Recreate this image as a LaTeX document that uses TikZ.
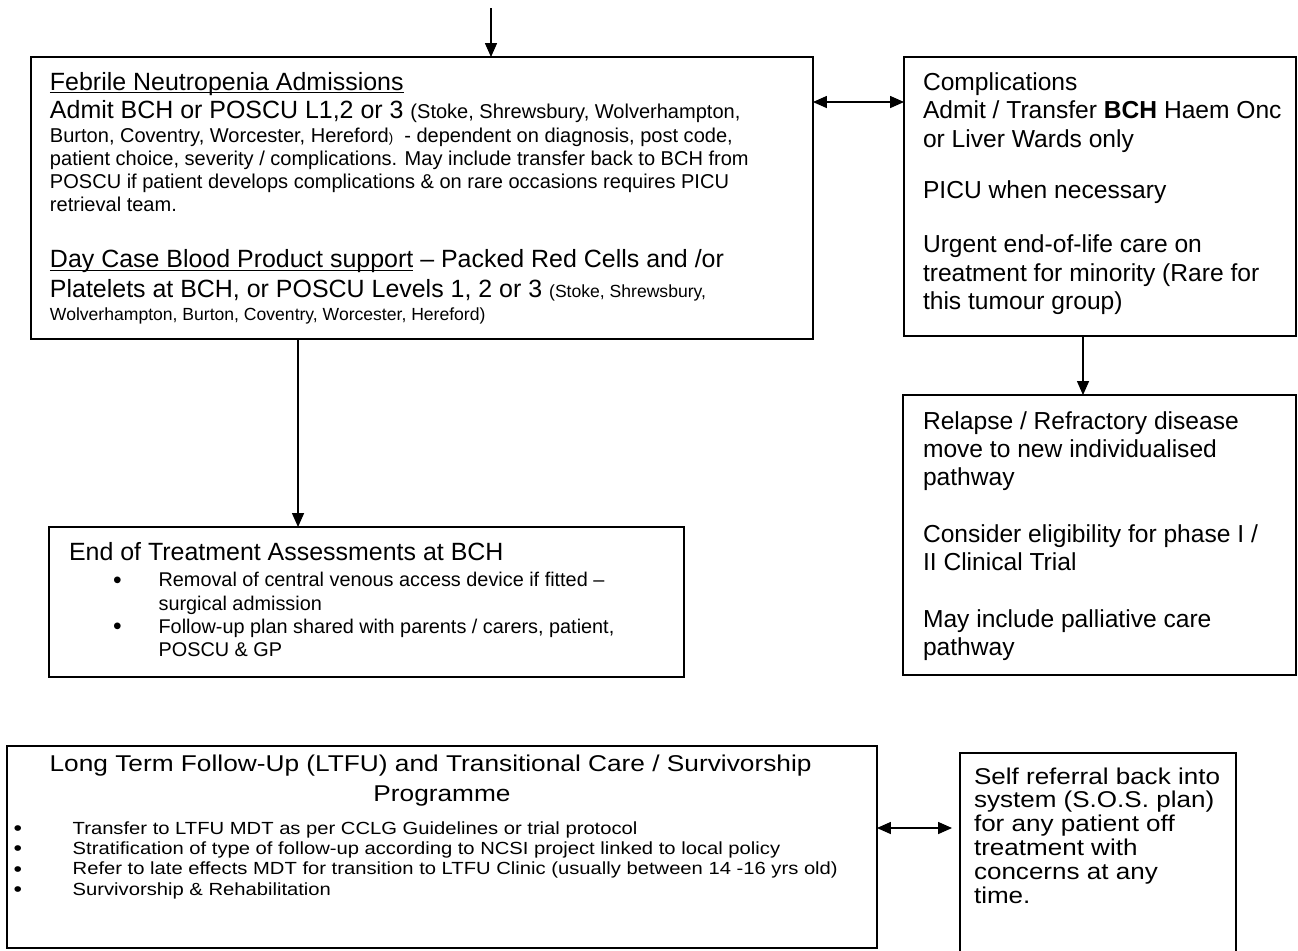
\documentclass[tikz,border=0pt]{standalone}
\usepackage{fontspec}
\setmainfont{Liberation Sans}
\newfontfamily\ltfufont[FakeStretch=1.15]{Liberation Sans}
\newfontfamily\sosfont[FakeStretch=1.14]{Liberation Sans}
\usetikzlibrary{arrows.meta}

\newcommand{\bigtxt}{\fontsize{14.2}{13.2}\selectfont}
\newcommand{\smalltxt}{\fontsize{11.4}{13.2}\selectfont}
\newcommand{\smallertxt}{\fontsize{10}{13.2}\selectfont}
\newcommand{\tinytxt}{\fontsize{7.5}{13.2}\selectfont}
\newcommand{\fixlines}{\lineskiplimit=-100pt\lineskip=0pt}
\newsavebox{\ulbox}
\newcommand{\uln}[1]{\leavevmode\sbox{\ulbox}{#1}\rlap{\rule[-1.6pt]{\wd\ulbox}{0.6pt}}\usebox{\ulbox}}
\newcommand{\dotitem}[2]{\leavevmode\llap{\raisebox{-0.8pt}{\fontsize{#1}{8}\selectfont\textbullet}\hspace{#2}}}

\begin{document}
\begin{tikzpicture}[x=0.02cm, y=-0.02cm, >={Triangle[length=7.9pt, width=6.8pt]},
    box/.style={draw, line width=0.9pt, inner sep=0pt, outer sep=0pt},
    txt/.style={inner sep=0pt, outer sep=0pt, anchor=base west, align=flush left},
    link/.style={line width=0.7pt}]
    \fill[white] (0,0) rectangle (1298,950);
    \useasboundingbox (0,0) rectangle (1298,950);

    \node[box, minimum width=15.64cm, minimum height=5.64cm] (fn) at (422,198) {};
    \node[box, minimum width=7.84cm, minimum height=5.58cm] (comp) at (1100,196.5) {};
    \node[box, minimum width=7.86cm, minimum height=5.6cm] (rel) at (1099.5,535) {};
    \node[box, minimum width=12.7cm, minimum height=3cm] (eot) at (366.5,602) {};
    \node[box, minimum width=17.4cm, minimum height=4.04cm] (ltfu) at (442,847) {};
    \node[box, minimum width=5.52cm, minimum height=4.94cm] (sos) at (1098,876.5) {};

    \node[txt, text width=15.6cm, font=\bigtxt\fixlines] (fnTxt) at (50,90) {%
    \uln{Febrile Neutropenia Admissions}\\[3.2pt]
    Admit BCH or POSCU L1,2 or 3 \smalltxt(Stoke, Shrewsbury, Wolverhampton,\\
    \smalltxt Burton, Coventry, Worcester, Hereford{\tinytxt)}\ \ - dependent on diagnosis, post code,\\
    \smalltxt patient choice, severity / complications. May include transfer back to BCH from\\
    \smalltxt POSCU if patient develops complications \& on rare occasions requires PICU\\
    \smalltxt retrieval team.\\[18.9pt]
    \bigtxt\uln{Day Case Blood Product support} -- Packed Red Cells and /or\\[3.5pt]
    \bigtxt Platelets at BCH, or POSCU Levels 1, 2 or 3 \smallertxt(Stoke, Shrewsbury,\\
    \smallertxt Wolverhampton, Burton, Coventry, Worcester, Hereford)};

    \node[txt, text width=8cm, font=\fontsize{14}{16.3}\selectfont\fixlines] (compTxt) at (923,90) {%
    Complications\\
    Admit / Transfer \textbf{BCH} Haem Onc\\
    or Liver Wards only\\[13pt]
    PICU when necessary\\[14.3pt]
    Urgent end-of-life care on\\
    treatment for minority (Rare for\\
    this tumour group)};

    \node[txt, text width=8cm, font=\fontsize{14}{16}\selectfont\fixlines] (relTxt) at (923,429) {%
    Relapse / Refractory disease\\
    move to new individualised\\
    pathway\\[16.5pt]
    Consider eligibility for phase I /\\
    II Clinical Trial\\[16.4pt]
    May include palliative care\\
    pathway};

    \node[txt, text width=12cm, font=\fontsize{11.3}{13.3}\selectfont\fixlines] (eotTxt) at (69,560.7) {%
    {\fontsize{14.2}{13.3}\selectfont End of Treatment Assessments at BCH}\\[1.5pt]
    \hspace*{51pt}\dotitem{14}{21pt}Removal of central venous access device if fitted --\\
    \hspace*{51pt}surgical admission\\
    \hspace*{51pt}\dotitem{14}{21pt}Follow-up plan shared with parents / carers, patient,\\
    \hspace*{51pt}POSCU \& GP};

    \node[txt, anchor=base, text width=17cm, align=flush center, font=\ltfufont\fontsize{13}{17}\selectfont\fixlines] (ltfuHead) at (442,771.7) {%
    Long Term Follow-Up (LTFU) and Transitional Care / Survivorship\hspace*{13pt}\mbox{}\\
    Programme};
    \node[txt, text width=16cm, font=\ltfufont\fontsize{10}{11.6}\selectfont\fixlines] (ltfuList) at (72.7,834) {%
    \dotitem{12}{28.8pt}Transfer to LTFU MDT as per CCLG Guidelines or trial protocol\\
    \dotitem{12}{28.8pt}Stratification of type of follow-up according to NCSI project linked to local policy\\
    \dotitem{12}{28.8pt}Refer to late effects MDT for transition to LTFU Clinic (usually between 14 -16 yrs old)\\
    \dotitem{12}{28.8pt}Survivorship \& Rehabilitation};

    \node[txt, text width=6cm, font=\sosfont\fontsize{13}{13.6}\selectfont\fixlines] (sosTxt) at (974,784) {%
    Self referral back into\\
    system (S.O.S. plan)\\
    for any patient off\\
    treatment with\\
    concerns at any\\
    time.};

    \coordinate (entry) at (491,8);
    \draw[link, ->] (entry) -- (entry |- fn.north);
    \draw[link, <->] ([yshift=-0.9cm]fn.north east) -- ([yshift=-0.9cm]fn.north east -| comp.west);
    \draw[link, ->] ([xshift=5.34cm]fn.south west) -- ([xshift=5.34cm]fn.south west |- eot.north);
    \draw[link, ->] ([xshift=3.58cm]comp.south west) -- ([xshift=3.58cm]comp.south west |- rel.north);
    \draw[link, <->, shorten >=0.16cm] ([yshift=-1.64cm]ltfu.north east) -- ([yshift=-1.64cm]ltfu.north east -| sos.west);
\end{tikzpicture}
\end{document}
